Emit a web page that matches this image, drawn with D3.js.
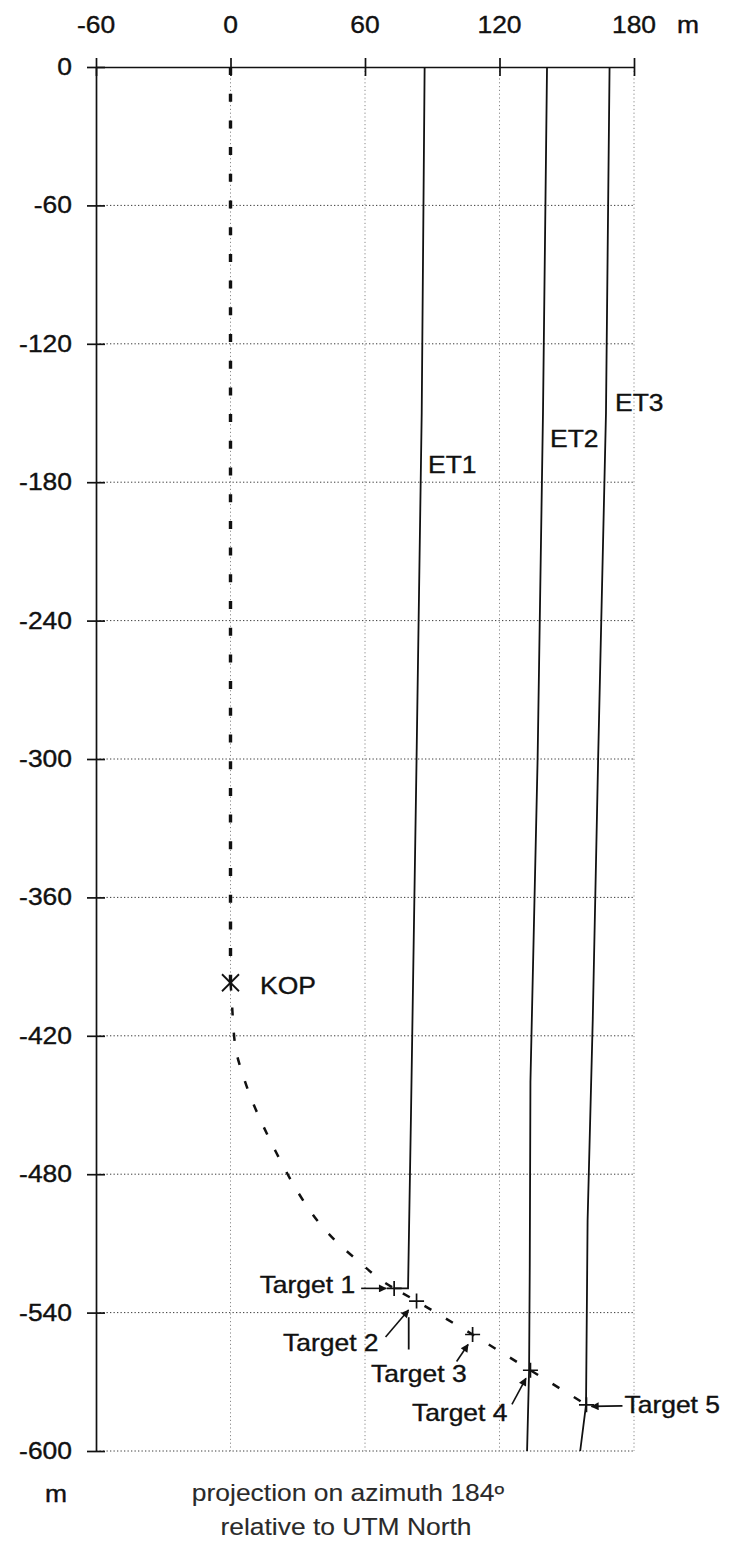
<!DOCTYPE html>
<html>
<head>
<meta charset="utf-8">
<script src="https://cdn.jsdelivr.net/npm/d3@7"></script>
<style>
  html, body { margin: 0; padding: 0; background: #fff; }
  svg { display: block; }
  text { font-family: "Liberation Sans", Arial, Helvetica, sans-serif; }
</style>
</head>
<body>
<svg id="chart" width="732" height="1542"></svg>
<script>
// ---- data (metres) ----
const eastTicks = [-60, 0, 60, 120, 180];
const depthTicks = [0, -60, -120, -180, -240, -300, -360, -420, -480, -540, -600];

// planned well: vertical hole down to the kick-off point, then the build section
const kickOff = [0, -397];
const verticalSection = [[0, 0], [0, -397]];
const buildSection = [
  [0, -397], [0.5, -403], [1.1, -414], [2, -426], [4.5, -434], [8.5, -446],
  [14, -458], [20, -470], [27, -483], [34.6, -495], [41.8, -504], [50, -512],
  [58.7, -519], [66, -525.5], [73, -529.5]
];

// targets along the horizontal section
const targetNames = ["Target 1", "Target 2", "Target 3", "Target 4", "Target 5"];
const targetEast = [73, 83, 108, 133.8, 158.8];
const targetDepth = [-529.5, -535, -549.5, -565, -580];

// existing wells
const et1Path = [[86.6, 0], [85.3, -150], [83, -300], [80.5, -455], [79.2, -529.5], [73, -529.5]];
const et1Tail = [[79.5, -542], [79.5, -556]];
const et2Path = [[141.2, 0], [139.4, -150], [137, -300], [133.8, -440], [133.5, -520], [133.2, -565], [132.3, -600]];
const et3Path = [[169.1, 0], [167.5, -150], [164, -300], [161.6, -413], [159.3, -500], [158.6, -580], [156, -600]];
const wellNames = ["ET1", "ET2", "ET3"];

// ---- layout ----
const svg = d3.select("#chart");
const x = d3.scaleLinear().domain([-60, 180]).range([96, 634]);
const y = d3.scaleLinear().domain([0, -600]).range([67, 1451]);
const STRETCH = 1.15;
const FONT = 23;

function label(g, px, py, str, anchor, opts = {}) {
  const ink = opts.fill || "#111";
  return g.append("text")
    .attr("transform", `translate(${px},${py}) scale(${STRETCH},1)`)
    .attr("text-anchor", anchor)
    .attr("font-size", opts.size || FONT)
    .attr("fill", ink)
    .attr("stroke", ink)
    .attr("stroke-width", opts.weight == null ? 0.35 : opts.weight)
    .text(str);
}

// arrowhead
svg.append("defs").append("marker")
  .attr("id", "head")
  .attr("viewBox", "0 0 10 10")
  .attr("refX", 9).attr("refY", 5)
  .attr("markerWidth", 11).attr("markerHeight", 8)
  .attr("markerUnits", "userSpaceOnUse")
  .attr("orient", "auto")
  .append("path").attr("d", "M0,0 L10,5 L0,10 Z").attr("fill", "#111");

// ---- grid ----
const grid = svg.append("g");
grid.selectAll("line.h").data(depthTicks.filter(d => d !== 0)).join("line")
  .attr("x1", x(-60)).attr("x2", x(180))
  .attr("y1", d => y(d)).attr("y2", d => y(d))
  .attr("stroke", "#3a3a3a").attr("stroke-width", 1)
  .attr("stroke-dasharray", "1.3,2.2");
grid.selectAll("line.v").data(eastTicks.filter(d => d !== -60)).join("line")
  .attr("x1", d => x(d)).attr("x2", d => x(d))
  .attr("y1", y(0)).attr("y2", y(-600))
  .attr("stroke", "#8a8a8a").attr("stroke-width", 1)
  .attr("stroke-dasharray", "1.2,2.6");

// ---- axes (ticks crossing the axis line) ----
const topAxis = svg.append("g").attr("transform", `translate(0,${y(0)})`)
  .call(d3.axisTop(x).tickValues(eastTicks).tickSizeOuter(0).tickSizeInner(9).tickFormat(""));
topAxis.selectAll(".tick line").attr("y1", 9).attr("y2", -9);
const leftAxis = svg.append("g").attr("transform", `translate(${x(-60)},0)`)
  .call(d3.axisLeft(y).tickValues(depthTicks).tickSizeOuter(0).tickSizeInner(9).tickFormat(""));
leftAxis.selectAll(".tick line").attr("x1", 9).attr("x2", -9);
svg.selectAll(".domain, .tick line").attr("stroke", "#111").attr("stroke-width", 1.7);

const labels = svg.append("g");
eastTicks.forEach(v => label(labels, x(v), 33, String(v), "middle"));
label(labels, 688, 33, "m", "middle");
depthTicks.forEach(v => label(labels, 72, y(v) + 8, String(v), "end"));
label(labels, 56, 1502, "m", "middle");
label(labels, 348, 1501, "projection on azimuth 184º", "middle", { fill: "#2a2a2a", weight: 0.1 });
label(labels, 346, 1535, "relative to UTM North", "middle", { fill: "#2a2a2a", weight: 0.1 });

// ---- existing wells ----
const line = d3.line().x(d => x(d[0])).y(d => y(d[1]));
const wells = svg.append("g").attr("fill", "none").attr("stroke", "#111").attr("stroke-width", 1.8);
[et1Path, et1Tail, et2Path, et3Path].forEach(p => wells.append("path").attr("d", line(p)));
const wellLabelPos = [[428, 473], [550, 447], [615, 411]];
wellNames.forEach((n, i) => label(labels, wellLabelPos[i][0], wellLabelPos[i][1], n, "start"));

// ---- planned well ----
const plan = svg.append("g").attr("fill", "none").attr("stroke", "#111");
plan.append("path").attr("d", line(verticalSection))
  .attr("stroke-width", 3.4).attr("stroke-dasharray", "8,18.7");
const horizontal = targetEast.map((e, i) => [e, targetDepth[i]]);
plan.append("path")
  .attr("d", d3.line().x(d => x(d[0])).y(d => y(d[1])).curve(d3.curveBasis)(buildSection))
  .attr("stroke-width", 2.5).attr("stroke-dasharray", "8,17");
plan.append("path").attr("d", line(horizontal))
  .attr("stroke-width", 2.5).attr("stroke-dasharray", "8,17").attr("stroke-dashoffset", -10);

// kick-off point
const kx = x(kickOff[0]), ky = y(kickOff[1]);
svg.append("path")
  .attr("d", `M${kx - 8.5},${ky - 8.5}L${kx + 8.5},${ky + 8.5}M${kx - 8.5},${ky + 8.5}L${kx + 8.5},${ky - 8.5}`)
  .attr("stroke", "#111").attr("stroke-width", 1.8);
label(labels, 260, ky + 11, "KOP", "start");

// ---- targets and call-outs ----
// offsets in pixels from each target: label anchor, arrow start, arrow end
const callouts = [
  { lx: -39, ly: 5,  anchor: "end",   a0: [-33, 0],    a1: [-8, 0] },
  { lx: -38, ly: 50, anchor: "end",   a0: [-31, 36],   a1: [-8, 9] },
  { lx: -6,  ly: 47, anchor: "end",   a0: [-16, 27],   a1: [-4.5, 10] },
  { lx: -23, ly: 51, anchor: "end",   a0: [-18.5, 34], a1: [-4.5, 8] },
  { lx: 38,  ly: 8,  anchor: "start", a0: [36, 1],     a1: [5, 1.5] }
];
const tg = svg.append("g");
targetNames.forEach((name, i) => {
  const tx = x(targetEast[i]), ty = y(targetDepth[i]);
  const c = callouts[i];
  tg.append("path")
    .attr("d", `M${tx - 7.5},${ty}H${tx + 7.5}M${tx},${ty - 7.5}V${ty + 7.5}`)
    .attr("stroke", "#111").attr("stroke-width", 1.7);
  tg.append("line")
    .attr("x1", tx + c.a0[0]).attr("y1", ty + c.a0[1])
    .attr("x2", tx + c.a1[0]).attr("y2", ty + c.a1[1])
    .attr("stroke", "#111").attr("stroke-width", 1.6)
    .attr("marker-end", "url(#head)");
  label(labels, tx + c.lx, ty + c.ly, name, c.anchor);
});
</script>
</body>
</html>
